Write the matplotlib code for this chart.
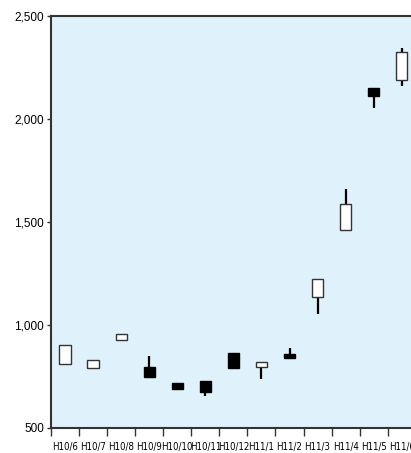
import numpy as np
import matplotlib
matplotlib.use('Agg')
import matplotlib.pyplot as plt
from matplotlib import font_manager
from matplotlib.ticker import FuncFormatter

plt.rcParams['font.family'] = ['Liberation Sans', 'DejaVu Sans']

# 月次ローソク足データ
months = ['H10/6', 'H10/7', 'H10/8', 'H10/9', 'H10/10', 'H10/11', 'H10/12',
          'H11/1', 'H11/2', 'H11/3', 'H11/4', 'H11/5', 'H11/6']
opens  = [810, 790, 926, 797, 717, 730, 865, 795, 860, 1135, 1460, 2150, 2190]
closes = [905, 828, 958, 746, 690, 675, 790, 820, 840, 1225, 1585, 2110, 2325]
highs  = [905, 828, 958, 848, 717, 730, 865, 820, 890, 1225, 1660, 2150, 2345]
lows   = [810, 790, 926, 746, 690, 655, 790, 740, 840, 1055, 1460, 2055, 2160]

# 細い書体があれば使う
fonts = font_manager.fontManager.ttflist
narrow = [f for f in fonts if 'Narrow' in f.name or 'Condensed' in f.name
          or str(f.stretch) in ('condensed', 'semi-condensed', 'extra-condensed')]
xfont = dict(fontsize=5.8)
for f in narrow:
    if f.name == 'Liberation Sans Narrow':
        xfont = dict(fontsize=7.3, family=[f.name])
        break
else:
    if narrow:
        f = narrow[0]
        xfont = dict(fontsize=6.9, family=[f.name], fontstretch=f.stretch)

fig = plt.figure(figsize=(4.11, 4.53), dpi=100)
ax = fig.add_axes([51/411, 25/453, 360/411, 412/453])
ax.set_facecolor('#dff1fa')

x = np.arange(len(months))
o = np.array(opens)
c = np.array(closes)
up = c >= o

ax.vlines(x, lows, highs, color='black', linewidth=1.6, zorder=2)
ax.bar(x[up], (c - o)[up], bottom=o[up], width=0.4, color='white',
       edgecolor='#333333', linewidth=1.0, zorder=3)
ax.bar(x[~up], (o - c)[~up], bottom=c[~up], width=0.4, color='black',
       edgecolor='black', linewidth=1.0, zorder=3)

ax.set_xlim(-0.5, 12.33)
ax.set_ylim(500, 2500)
ax.set_yticks([500, 1000, 1500, 2000, 2500])
ax.yaxis.set_major_formatter(FuncFormatter(lambda v, p: format(int(v), ',')))

ax.set_xticks(x)
ax.set_xticklabels(months, **xfont)
ax.set_xticks(np.arange(-0.5, 12.5, 1), minor=True)
ax.tick_params(axis='x', which='major', length=0, pad=10)
ax.tick_params(axis='x', which='minor', length=6, width=1, color='#333333')
ax.tick_params(axis='y', length=3, width=1, color='#333333', labelsize=8.5, pad=2)

for s in ['left', 'bottom', 'top']:
    ax.spines[s].set_color('#333333')
    ax.spines[s].set_linewidth(1.5)
ax.spines['right'].set_visible(False)

fig.savefig('out.png', dpi=100)
